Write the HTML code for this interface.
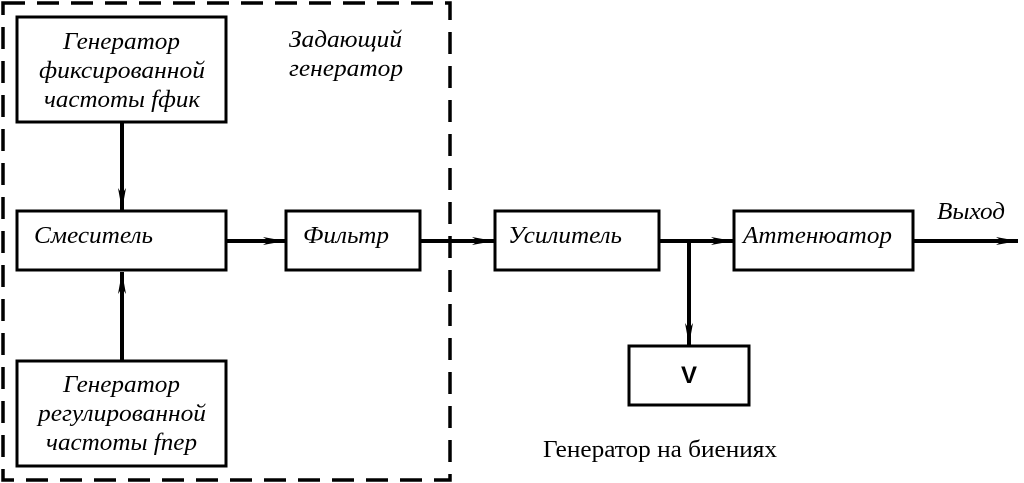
<!DOCTYPE html>
<html><head><meta charset="utf-8"><style>
html,body{margin:0;padding:0;background:#fff;}
svg{display:block}
text{font-family:"Liberation Serif",serif;font-style:italic;font-size:24px;fill:#000}
</style></head><body>
<svg width="1024" height="483" viewBox="0 0 1024 483" xmlns="http://www.w3.org/2000/svg">
<defs>
<marker id="a" markerWidth="22" markerHeight="10" refX="22" refY="5" orient="auto" markerUnits="userSpaceOnUse">
<path d="M0,1 L22,5 L0,9 L6,5 Z" fill="#000"/>
</marker>
</defs>
<rect x="3" y="3" width="447" height="477" fill="none" stroke="#000" stroke-width="3.5" stroke-dasharray="22,12"/>
<g fill="#fff" stroke="#000" stroke-width="3">
<rect x="17" y="17" width="209" height="105"/>
<rect x="17" y="211" width="209" height="59"/>
<rect x="17" y="361" width="209" height="105"/>
<rect x="286" y="211" width="134" height="59"/>
<rect x="495" y="211" width="164" height="59"/>
<rect x="734" y="211" width="179" height="59"/>
<rect x="629" y="346" width="120" height="59"/>
</g>
<g stroke="#000" stroke-width="4" fill="none">
<line x1="122" y1="122" x2="122" y2="210" marker-end="url(#a)"/>
<line x1="122" y1="361" x2="122" y2="272" marker-end="url(#a)"/>
<line x1="226" y1="241" x2="285" y2="241" marker-end="url(#a)"/>
<line x1="420" y1="241" x2="494" y2="241" marker-end="url(#a)"/>
<line x1="659" y1="241" x2="733" y2="241" marker-end="url(#a)"/>
<line x1="689" y1="241" x2="689" y2="345" marker-end="url(#a)"/>
<line x1="913" y1="241" x2="1018" y2="241" marker-end="url(#a)"/>
</g>
<g>
<text x="63" y="49" textLength="117" lengthAdjust="spacingAndGlyphs">Генератор</text>
<text x="39" y="78" textLength="166" lengthAdjust="spacingAndGlyphs">фиксированной</text>
<text x="44" y="107" textLength="156" lengthAdjust="spacingAndGlyphs">частоты fфик</text>
<text x="63" y="392" textLength="117" lengthAdjust="spacingAndGlyphs">Генератор</text>
<text x="38" y="421" textLength="168" lengthAdjust="spacingAndGlyphs">регулированной</text>
<text x="46" y="450" textLength="151" lengthAdjust="spacingAndGlyphs">частоты fпер</text>
<text x="289" y="47" textLength="113" lengthAdjust="spacingAndGlyphs">Задающий</text>
<text x="289" y="76" textLength="114" lengthAdjust="spacingAndGlyphs">генератор</text>
<text x="34" y="243" textLength="119" lengthAdjust="spacingAndGlyphs">Смеситель</text>
<text x="303" y="243" textLength="86" lengthAdjust="spacingAndGlyphs">Фильтр</text>
<text x="508" y="243" textLength="114" lengthAdjust="spacingAndGlyphs">Усилитель</text>
<text x="743" y="243" textLength="149" lengthAdjust="spacingAndGlyphs">Аттенюатор</text>
<text x="937" y="219" textLength="68" lengthAdjust="spacingAndGlyphs">Выход</text>
</g>
<text x="689" y="383" text-anchor="middle" style="font-family:'Liberation Sans',sans-serif;font-style:normal;font-weight:bold;font-size:24px">V</text>
<text x="543" y="457" textLength="234" lengthAdjust="spacingAndGlyphs" style="font-style:normal">Генератор на биениях</text>
</svg>
</body></html>
